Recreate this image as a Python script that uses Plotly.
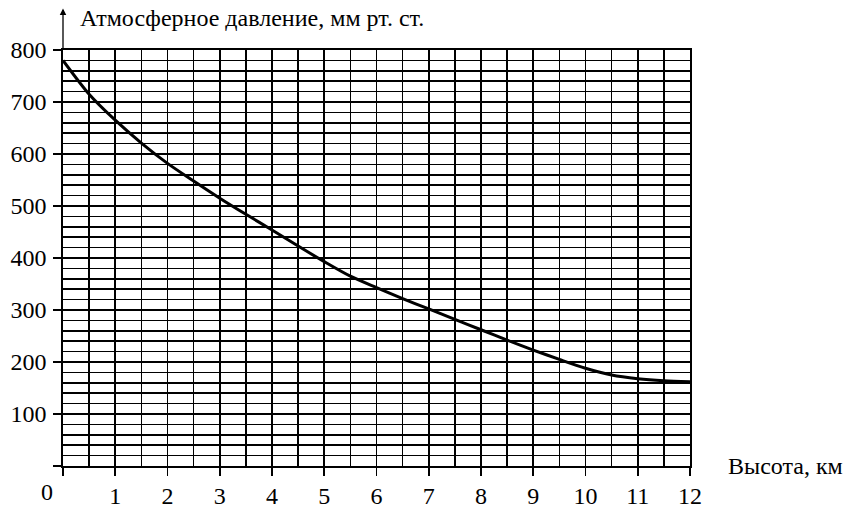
import plotly.graph_objects as go

# Data
altitude_km = [0, 0.5, 1, 1.5, 2, 2.5, 3, 3.5, 4, 4.5, 5, 5.5, 6, 6.5, 7, 7.5,
               8, 8.5, 9, 9.5, 10, 10.5, 11, 11.5, 12]
pressure_mm = [780, 715, 665, 621, 582, 548, 515, 484, 454, 423, 393, 365, 343,
               322, 302, 282, 262, 242, 223, 205, 188, 175, 168, 164, 162]

x_ticks = list(range(0, 13))
x_tick_labels = [""] + [str(v) for v in range(1, 13)]
y_ticks = list(range(0, 801, 100))
y_tick_labels = [""] + [str(v) for v in range(100, 801, 100)]

y_title = "Атмосферное давление, мм рт. ст."
x_title = "Высота, км"

FONT = "Liberation Serif"
FS = 24

fig = go.Figure()
fig.add_trace(go.Scatter(
    x=altitude_km, y=pressure_mm, mode="lines",
    line=dict(color="black", width=3, shape="spline", smoothing=0.8),
    hoverinfo="skip", showlegend=False,
))

grid = dict(showgrid=True, gridcolor="black", gridwidth=1.6)

fig.update_layout(
    width=861, height=511,
    margin=dict(l=63, r=171, t=50, b=45, autoexpand=False),
    paper_bgcolor="white", plot_bgcolor="white",
    font=dict(family=FONT, size=FS, color="black"),
    xaxis=dict(
        range=[0, 12], tickmode="array", tickvals=x_ticks, ticktext=x_tick_labels,
        ticks="outside", ticklen=8, tickwidth=1.6, tickcolor="black",
        showline=True, linecolor="black", linewidth=1.6, mirror=True,
        zeroline=False, fixedrange=True, automargin=False,
        tickfont=dict(family=FONT, size=FS, color="black"),
        minor=dict(tickmode="linear", tick0=0, dtick=0.5, ticks="", **grid),
        **grid,
    ),
    yaxis=dict(
        range=[0, 800], tickmode="array", tickvals=y_ticks, ticktext=y_tick_labels,
        ticks="outside", ticklen=8, tickwidth=1.6, tickcolor="black",
        showline=True, linecolor="black", linewidth=1.6, mirror=True,
        zeroline=False, fixedrange=True, automargin=False,
        ticklabelstandoff=2,
        tickfont=dict(family=FONT, size=FS, color="black"),
        minor=dict(tickmode="linear", tick0=0, dtick=20, ticks="", **grid),
        **grid,
    ),
)

# Axis arrows
fig.add_annotation(x=0, y=1.10, xref="x", yref="paper", ax=0, ay=42,
                   showarrow=True, arrowhead=2, arrowsize=1, arrowwidth=1.3,
                   arrowcolor="black", text="")
fig.add_annotation(x=12.55, y=0, xref="x", yref="y", ax=-30, ay=0,
                   showarrow=True, arrowhead=2, arrowsize=1, arrowwidth=1.3,
                   arrowcolor="black", text="")

# Axis titles
fig.add_annotation(x=0.024, y=1.077, xref="paper", yref="paper",
                   xanchor="left", yanchor="middle", showarrow=False,
                   text=y_title, font=dict(family=FONT, size=FS, color="black"))
fig.add_annotation(x=1.057, y=0, xref="paper", yref="paper",
                   xanchor="left", yanchor="middle", showarrow=False,
                   text=x_title, font=dict(family=FONT, size=FS, color="black"))

# Origin label placed left of the axis as in the reference
fig.add_annotation(x=0, y=0, xref="x", yref="y", xshift=-16, yshift=-26,
                   showarrow=False, text="0",
                   font=dict(family=FONT, size=FS, color="black"))

fig.write_html(
    "out.html",
    config={"displayModeBar": False, "staticPlot": True},
    post_script="document.body.style.margin='0';document.body.style.overflow='hidden';",
)
